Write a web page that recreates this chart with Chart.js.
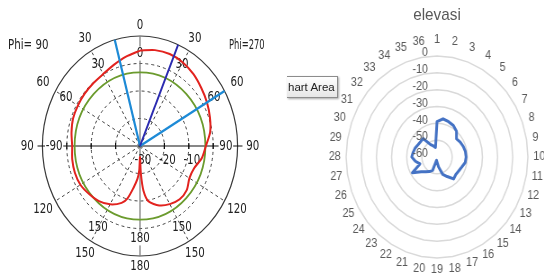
<!DOCTYPE html>
<html>
<head>
<meta charset="utf-8">
<script src="https://cdn.jsdelivr.net/npm/chart.js@4.4.1/dist/chart.umd.min.js"></script>
<style>
  html, body { margin: 0; padding: 0; background: #fff; overflow: hidden; width: 544px; height: 278px; }
  #left { position: absolute; left: 0; top: 0; width: 272px; height: 278px; }
  #right { position: absolute; left: 287px; top: 0; width: 300px; height: 278px;
           transform: scaleX(0.9); transform-origin: 150px 50%; }
  #right .box { position: absolute; left: 0; top: 0; width: 300px; height: 278px; }
  #title { position: absolute; left: 0; top: 5px; width: 300px; text-align: center;
           font: 17px 'Liberation Sans', Arial, sans-serif; color: #595959; }
  #tip { position: absolute; left: 287px; top: 76px; width: 50px; height: 20px; overflow: hidden;
         border: 1px solid #8c8c8c; border-left: none; box-shadow: 1px 1px 2px rgba(0,0,0,.35);
         background: linear-gradient(#ffffff, #e6e6e6);
         font: 11.5px 'Liberation Sans', Arial, sans-serif; color: #222; line-height: 20px; white-space: nowrap; }
  #tip span { position: relative; left: 1px; }
</style>
</head>
<body>
<div id="left"><canvas id="polarChart"></canvas></div>
<div id="right">
  <div class="box"><canvas id="elevChart"></canvas></div>
  <div id="title">elevasi</div>
</div>
<div id="tip"><span>hart Area</span></div>

<script>
// ---------- left: farfield cut (theta measured clockwise from top) ----------
const thetaAngles = [0, 10, 20, 30, 40, 50, 60, 70, 80, 90, 100, 110, 120, 130, 140, 150, 160, 170, 175, 178,
                     180, 182, 185, 190, 195, 200, 210, 220, 230, 240, 250, 260, 270, 280, 290, 300, 310, 320,
                     330, 340, 350, 360];
const gainDb = [4.7, 5.4, 5.6, 5.1, 4.1, 2.8, 1.7, 0.5, -0.8, -3.0, -4.3, -6.4, -6.6, -5.0, -4.7, -5.6, -7.0, -9.5,
                -13.7, -20, -26, -21, -18, -14.5, -10.3, -8.0, -5.5, -3.8, -2.8, -1.8, -1.6, -1.8, -2.2, -1.5,
                -0.8, -0.6, -0.4, -0.2, 0.2, 1.4, 3.0, 4.7];
const threeDbLevel = -3.2;          // green circle
const mainLobeDir = 23;             // dark blue line
const beamEdgeDirs = [-15, 60];     // light blue lines
const centerDb = -30;
const ringDb = [-20, -10, 0];       // dashed rings
const outerDb = 10;                 // solid outer circle
const radialTickLabels = ['-30', '-20', '-10'];
const innerAngleLabels = [[0, '0'], [-30, '30'], [30, '30'], [-60, '60'], [60, '60'], [-90, '-90'], [90, '90'],
                          [-150, '150'], [150, '150'], [180, '180']];
const outerAngleLabels = [[0, '0'], [-30, '30'], [30, '30'], [-60, '60'], [60, '60'], [-90, '90'], [90, '90'],
                          [-120, '120'], [120, '120'], [-150, '150'], [150, '150'], [180, '180']];

// ---------- right: elevasi radar ----------
const elevCategories = ['1','2','3','4','5','6','7','8','9','10','11','12','13','14','15','16','17','18',
                        '19','20','21','22','23','24','25','26','27','28','29','30','31','32','33','34','35','36'];
const elevValues = [-39, -37, -37.7, -38.4, -40, -43.2, -42.3, -41.6, -41, -40.8, -41.1, -42.6,
                    -43.5, -43.8, -43, -46.6, -49, -54, -57, -58, -51.5, -50, -48.6, -46.4,
                    -41.2, -48, -45.5, -43.3, -44, -44.6, -45.5, -45.8, -45.7, -51.5, -53, -54.2];
const elevTicks = [0, -10, -20, -30, -40, -50, -60];

// layout of the left picture (pixels)
const L = { w: 272, h: 278, cx: 140, cy: 146, ux: 24.4, uy: 27.5 };

function toUnits(db) { return (db - centerDb) / 10; }
function polar(angleDeg, db) {
  const u = toUnits(db), a = angleDeg * Math.PI / 180;
  return { x: u * Math.sin(a), y: u * Math.cos(a) };
}

function narrowText(ctx, text, x, y, sx, backdrop) {
  ctx.save();
  ctx.translate(x, y);
  ctx.scale(sx, 1);
  if (backdrop) {
    const w = ctx.measureText(text).width;
    ctx.fillStyle = '#fff';
    ctx.fillRect(-w / 2 - 1, -7, w + 2, 14);
    ctx.fillStyle = '#222';
  }
  ctx.fillText(text, 0, 0);
  ctx.restore();
}

const polarFrame = {
  id: 'polarFrame',
  beforeDatasetsDraw(chart) {
    const ctx = chart.ctx, xs = chart.scales.x, ys = chart.scales.y;
    const cx = xs.getPixelForValue(0), cy = ys.getPixelForValue(0);
    const rx = u => xs.getPixelForValue(u) - cx;
    const ry = u => cy - ys.getPixelForValue(u);
    const pt = (ang, u) => ({ x: xs.getPixelForValue(u * Math.sin(ang * Math.PI / 180)),
                              y: ys.getPixelForValue(u * Math.cos(ang * Math.PI / 180)) });
    const uOut = toUnits(outerDb);
    ctx.save();
    // dashed rings
    ctx.strokeStyle = '#444'; ctx.lineWidth = 1; ctx.setLineDash([3, 3]);
    ringDb.forEach(db => {
      const u = toUnits(db);
      ctx.beginPath(); ctx.ellipse(cx, cy, rx(u), ry(u), 0, 0, Math.PI * 2); ctx.stroke();
    });
    // dashed spokes
    for (let a = 30; a < 360; a += 30) {
      if (a % 90 === 0) continue;
      const p = pt(a, uOut);
      ctx.beginPath(); ctx.moveTo(cx, cy); ctx.lineTo(p.x, p.y); ctx.stroke();
    }
    ctx.setLineDash([]);
    // outer circle
    ctx.strokeStyle = '#3a3a3a'; ctx.lineWidth = 1.2;
    ctx.beginPath(); ctx.ellipse(cx, cy, rx(uOut), ry(uOut), 0, 0, Math.PI * 2); ctx.stroke();
    // axes
    ctx.strokeStyle = '#7a7a7a'; ctx.lineWidth = 1.2;
    ctx.beginPath(); ctx.moveTo(cx, cy - ry(uOut)); ctx.lineTo(cx, cy + ry(uOut)); ctx.stroke();
    ctx.strokeStyle = '#111';
    ctx.beginPath(); ctx.moveTo(cx - rx(uOut + 0.2), cy); ctx.lineTo(cx + rx(uOut + 0.2), cy); ctx.stroke();
    ringDb.forEach(db => {
      const u = toUnits(db);
      [-1, 1].forEach(s => {
        ctx.beginPath(); ctx.moveTo(cx + s * rx(u), cy - 3); ctx.lineTo(cx + s * rx(u), cy + 3); ctx.stroke();
      });
    });
    // labels (under the traces)
    ctx.font = "13.5px 'DejaVu Sans', sans-serif";
    ctx.fillStyle = '#222'; ctx.textAlign = 'center'; ctx.textBaseline = 'middle';
    const sx = 0.76;
    innerAngleLabels.forEach(([a, t]) => {
      const s = Math.abs(Math.sin(a * Math.PI / 180));
      const p = pt(a, 3.36 + 0.16 * s);
      narrowText(ctx, t, p.x, p.y, sx, a % 90 === 0);
    });
    outerAngleLabels.forEach(([a, t]) => {
      const s = Math.abs(Math.sin(a * Math.PI / 180));
      const p = pt(a, 4.38 + 0.24 * s);
      narrowText(ctx, t, p.x, p.y, sx, a % 90 === 0);
    });
    radialTickLabels.forEach((t, i) => {
      const p = pt(90, i);
      narrowText(ctx, t, p.x + 3, cy + 14, sx, false);
    });
    ctx.textAlign = 'left';
    narrowText(ctx, 'Phi= 90', 8, 45, sx, false);
    narrowText(ctx, 'Phi=270', 229, 45, 0.62, false);
    // 3 dB level circle
    const ug = toUnits(threeDbLevel);
    ctx.strokeStyle = '#6b9b2e'; ctx.lineWidth = 1.8;
    ctx.beginPath(); ctx.ellipse(cx, cy, rx(ug), ry(ug), 0, 0, Math.PI * 2); ctx.stroke();
    ctx.restore();
  }
};

const lineDs = (data, color, width) => ({
  data, showLine: true, borderColor: color, borderWidth: width, pointRadius: 0, fill: false
});

new Chart(document.getElementById('polarChart'), {
  type: 'scatter',
  data: {
    datasets: [
      lineDs([{ x: 0, y: 0 }, polar(mainLobeDir, outerDb)], '#2b2bb0', 2),
      lineDs([{ x: 0, y: 0 }, polar(beamEdgeDirs[0], outerDb)], '#1d8ad6', 2.2),
      lineDs([{ x: 0, y: 0 }, polar(beamEdgeDirs[1], outerDb)], '#1d8ad6', 2.2),
      Object.assign(lineDs(thetaAngles.map((a, i) => polar(a, gainDb[i])), '#e2231f', 2), { tension: 0.25 })
    ]
  },
  options: {
    responsive: true, maintainAspectRatio: false, animation: false,
    layout: { padding: 0 },
    plugins: { legend: { display: false }, tooltip: { enabled: false } },
    scales: {
      x: { display: false, min: -L.cx / L.ux, max: (L.w - L.cx) / L.ux },
      y: { display: false, min: -(L.h - L.cy) / L.uy, max: L.cy / L.uy }
    }
  },
  plugins: [polarFrame]
});

// ---------- right chart ----------
const radarText = {
  id: 'radarText',
  afterDraw(chart) {
    const ctx = chart.ctx, r = chart.scales.r;
    ctx.save();
    ctx.font = "12px 'Liberation Sans', Arial, sans-serif";
    ctx.fillStyle = '#595959';
    ctx.textBaseline = 'middle';
    ctx.textAlign = 'right';
    r.ticks.forEach(t => {
      const d = r.getDistanceFromCenterForValue(t.value);
      ctx.fillText(String(t.value), r.xCenter - 10, r.yCenter - d - 3);
    });
    ctx.textAlign = 'center';
    chart.data.labels.forEach((lab, i) => {
      const a = i * 2 * Math.PI / chart.data.labels.length;
      const c = Math.cos(a);
      const p = r.getPointPosition(i, r.drawingArea + 6 + 4 * Math.max(0, c));
      const w = ctx.measureText(lab).width;
      ctx.fillText(lab, p.x + Math.sin(a) * w / 2, p.y - c * 6);
    });
    ctx.restore();
  }
};

new Chart(document.getElementById('elevChart'), {
  type: 'radar',
  data: {
    labels: elevCategories,
    datasets: [{
      data: elevValues, borderColor: '#4472c4', borderWidth: 3, borderJoinStyle: 'round',
      pointRadius: 0, fill: false, tension: 0
    }]
  },
  options: {
    responsive: true, maintainAspectRatio: false, animation: false,
    layout: { padding: { left: 49, right: 49, top: 56, bottom: 20 } },
    plugins: { legend: { display: false }, tooltip: { enabled: false } },
    scales: {
      r: {
        min: elevTicks[elevTicks.length - 1], max: elevTicks[0],
        ticks: { stepSize: 10, display: false },
        grid: { color: '#d9d9d9', lineWidth: 1.5 },
        angleLines: { display: false },
        pointLabels: { display: false }
      }
    }
  },
  plugins: [radarText]
});
</script>
</body>
</html>
